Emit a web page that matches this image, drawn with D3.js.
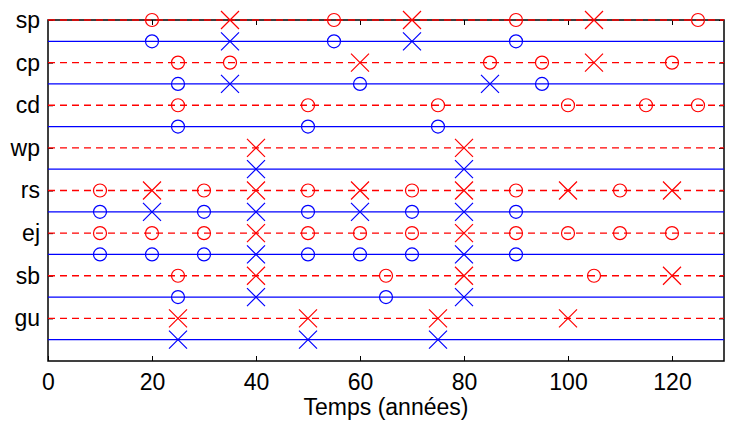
<!DOCTYPE html>
<html><head><meta charset="utf-8">
<script src="https://cdn.jsdelivr.net/npm/d3@7"></script>
<style>body{margin:0;background:#fff}svg{display:block;font-family:"Liberation Sans",Arial,sans-serif}</style>
</head><body><svg id="c" width="729" height="423"></svg>
<script>
const categories = ["sp","cp","cd","wp","rs","ej","sb","gu"];
// red (dashed, top) series per category: [x, marker]  o = circle, x = cross
const redSeries = [
  [[20,"o"],[35,"x"],[55,"o"],[70,"x"],[90,"o"],[105,"x"],[125,"o"]],
  [[25,"o"],[35,"o"],[60,"x"],[85,"o"],[95,"o"],[105,"x"],[120,"o"]],
  [[25,"o"],[50,"o"],[75,"o"],[100,"o"],[115,"o"],[125,"o"]],
  [[40,"x"],[80,"x"]],
  [[10,"o"],[20,"x"],[30,"o"],[40,"x"],[50,"o"],[60,"x"],[70,"o"],[80,"x"],[90,"o"],[100,"x"],[110,"o"],[120,"x"]],
  [[10,"o"],[20,"o"],[30,"o"],[40,"x"],[50,"o"],[60,"o"],[70,"o"],[80,"x"],[90,"o"],[100,"o"],[110,"o"],[120,"o"]],
  [[25,"o"],[40,"x"],[65,"o"],[80,"x"],[105,"o"],[120,"x"]],
  [[25,"x"],[50,"x"],[75,"x"],[100,"x"]]
];
// blue (solid, bottom) series per category
const blueSeries = [
  [[20,"o"],[35,"x"],[55,"o"],[70,"x"],[90,"o"]],
  [[25,"o"],[35,"x"],[60,"o"],[85,"x"],[95,"o"]],
  [[25,"o"],[50,"o"],[75,"o"]],
  [[40,"x"],[80,"x"]],
  [[10,"o"],[20,"x"],[30,"o"],[40,"x"],[50,"o"],[60,"x"],[70,"o"],[80,"x"],[90,"o"]],
  [[10,"o"],[20,"o"],[30,"o"],[40,"x"],[50,"o"],[60,"o"],[70,"o"],[80,"x"],[90,"o"]],
  [[25,"o"],[40,"x"],[65,"o"],[80,"x"]],
  [[25,"x"],[50,"x"],[75,"x"]]
];
const xTicks = [0,20,40,60,80,100,120];
const xLabel = "Temps (années)";

const svg = d3.select("#c");
const x = d3.scaleLinear().domain([0,130]).range([48,724]);
const y = d3.scaleLinear().domain([0,16]).range([20,361]);
const RED = "#ff0000", BLUE = "#0000ff";
const FONT = "Liberation Sans, Arial, sans-serif";

// box
svg.append("rect").attr("x",x(0)).attr("y",y(0)).attr("width",x(130)-x(0)).attr("height",y(16)-y(0))
  .attr("fill","none").attr("stroke","#000").attr("stroke-width",1.5);

// x ticks (inward, top & bottom)
const gx = svg.append("g").attr("transform",`translate(0,${y(16)})`)
  .call(d3.axisBottom(x).tickValues(xTicks).tickSize(-5).tickPadding(13).tickFormat(d3.format("d")));
gx.select(".domain").remove();
gx.selectAll("text").attr("font-size",23).attr("fill","#000").attr("font-family",FONT);
gx.selectAll("line").attr("stroke","#000");
const gxt = svg.append("g").attr("transform",`translate(0,${y(0)})`)
  .call(d3.axisTop(x).tickValues(xTicks.filter(d=>d>0)).tickSize(-5).tickFormat(""));
gxt.select(".domain").remove();
gxt.selectAll("line").attr("stroke","#000");

// y axis labels (left) and ticks (left & right, inward)
const yTickVals = categories.map((c,i)=>2*i);
const gy = svg.append("g").attr("transform",`translate(${x(0)},0)`)
  .call(d3.axisLeft(y).tickValues(yTickVals).tickSize(-5).tickPadding(8).tickFormat((d,i)=>categories[i]));
gy.select(".domain").remove();
gy.selectAll("text").attr("font-size",23).attr("fill","#000").attr("font-family",FONT);
gy.selectAll("line").attr("stroke","#000");
const gyr = svg.append("g").attr("transform",`translate(${x(130)},0)`)
  .call(d3.axisRight(y).tickValues(yTickVals).tickSize(-5).tickFormat(""));
gyr.select(".domain").remove();
gyr.selectAll("line").attr("stroke","#000");

// x label
svg.append("text").attr("x",(x(0)+x(130))/2).attr("y",415).attr("text-anchor","middle")
  .attr("font-size",23).attr("font-family",FONT).text(xLabel);

// lines and markers
function drawRow(series, yv, color, dashed){
  svg.append("line").attr("x1",x(0)).attr("x2",x(130)).attr("y1",y(yv)).attr("y2",y(yv))
    .attr("stroke",color).attr("stroke-width",1.3).attr("stroke-dasharray",dashed?"7,5":null);
  const g = svg.append("g");
  series.forEach(([v,m])=>{
    const cx = x(v), cy = y(yv);
    if(m==="o"){
      g.append("circle").attr("cx",cx).attr("cy",cy).attr("r",6.5).attr("fill","none").attr("stroke",color).attr("stroke-width",1.2);
    } else {
      const s=9;
      g.append("path").attr("d",`M${cx-s},${cy-s}L${cx+s},${cy+s}M${cx-s},${cy+s}L${cx+s},${cy-s}`)
        .attr("stroke",color).attr("stroke-width",1.2).attr("fill","none");
    }
  });
}
categories.forEach((c,i)=>{
  drawRow(redSeries[i], 2*i, RED, true);
  drawRow(blueSeries[i], 2*i+1, BLUE, false);
});
</script></body></html>
